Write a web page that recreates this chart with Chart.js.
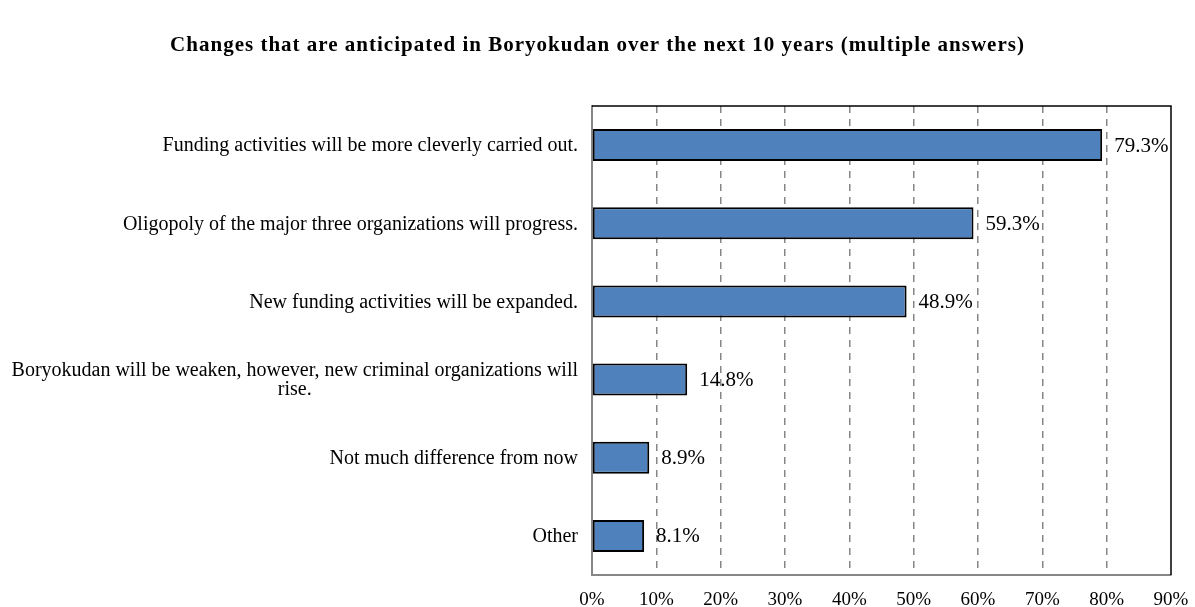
<!DOCTYPE html>
<html>
<head>
<meta charset="utf-8">
<script src="https://cdn.jsdelivr.net/npm/chart.js@4"></script>
<style>
  html, body { margin: 0; padding: 0; background: #fff; }
  #wrap { width: 1195px; height: 607px; }
</style>
</head>
<body>
<div id="wrap"><canvas id="grafico" width="1195" height="607"></canvas></div>
<script>
const titulo = 'Changes that are anticipated in Boryokudan over the next 10 years (multiple answers)';
const categorias = [
  ['Funding activities will be more cleverly carried out.'],
  ['Oligopoly of the major three organizations will progress.'],
  ['New funding activities will be expanded.'],
  ['Boryokudan will be weaken, however, new criminal organizations will', 'rise.'],
  ['Not much difference from now'],
  ['Other']
];
const valores = [79.3, 59.3, 48.9, 14.8, 8.9, 8.1];
const ejeMax = 90;
const ejePaso = 10;

const fuente = '"Liberation Serif", "Times New Roman", serif';

// title, category labels and value labels drawn by hand
const etiquetasPlugin = {
  id: 'etiquetas',
  afterDraw(chart) {
    const ctx = chart.ctx;
    const y = chart.scales.y;
    const x = chart.scales.x;
    const area = chart.chartArea;
    ctx.save();

    // plot frame top and right
    ctx.strokeStyle = '#000';
    ctx.lineWidth = 1.5;
    ctx.beginPath();
    ctx.moveTo(area.left, area.top);
    ctx.lineTo(area.right, area.top);
    ctx.lineTo(area.right, area.bottom);
    ctx.stroke();

    ctx.fillStyle = '#000';
    ctx.textBaseline = 'middle';

    // title
    ctx.font = 'bold 21px ' + fuente;
    ctx.letterSpacing = '1px';
    ctx.textAlign = 'center';
    ctx.fillText(titulo, chart.width / 2, 46);
    ctx.letterSpacing = '0px';

    ctx.font = '20px ' + fuente;
    categorias.forEach((lineas, i) => {
      const cy = y.getPixelForValue(i);
      const ancho = Math.max(...lineas.map(l => ctx.measureText(l).width));
      const derecha = area.left - 14;
      const centro = derecha - ancho / 2;
      const alto = 19;
      const inicio = cy - (lineas.length - 1) * alto / 2;
      ctx.textAlign = 'center';
      lineas.forEach((l, k) => ctx.fillText(l, centro, inicio + k * alto + 1));
    });

    ctx.font = '21px ' + fuente;
    ctx.textAlign = 'left';
    valores.forEach((v, i) => {
      const px = x.getPixelForValue(v);
      const cy = y.getPixelForValue(i);
      ctx.fillText(v.toFixed(1) + '%', px + 12, cy + 1);
    });
    ctx.restore();
  }
};

const ctx = document.getElementById('grafico').getContext('2d');
new Chart(ctx, {
  type: 'bar',
  data: {
    labels: categorias.map(c => c.join(' ')),
    datasets: [{
      data: valores,
      backgroundColor: '#4F81BD',
      borderColor: '#000',
      borderWidth: 2,
      borderSkipped: false,
      categoryPercentage: 1,
      barPercentage: 0.41
    }]
  },
  options: {
    indexAxis: 'y',
    responsive: false,
    animation: false,
    layout: { padding: { left: 0, right: 24, bottom: 0, top: 106 } },
    plugins: {
      legend: { display: false },
      tooltip: { enabled: false },
      title: { display: false }
    },
    scales: {
      x: {
        min: 0,
        max: ejeMax,
        ticks: {
          stepSize: ejePaso,
          padding: 14,
          color: '#000',
          font: { family: fuente, size: 19 },
          callback: v => v + '%'
        },
        grid: {
          drawTicks: false,
          color: c => (c.tick && (c.tick.value === 0 || c.tick.value === ejeMax)) ? 'rgba(0,0,0,0)' : '#868686',
          lineWidth: 1.5
        },
        border: { display: true, color: '#868686', width: 2, dash: [7, 6] },
        afterFit: s => {
          s.height = 32;
          s.paddingLeft = 0;
          s.paddingRight = 0;
        }
      },
      y: {
        ticks: { display: false },
        grid: { display: false, drawTicks: false },
        border: { display: true, color: '#868686', width: 2 },
        afterFit: s => { s.width = 592; }
      }
    }
  },
  plugins: [etiquetasPlugin]
});
</script>
</body>
</html>
